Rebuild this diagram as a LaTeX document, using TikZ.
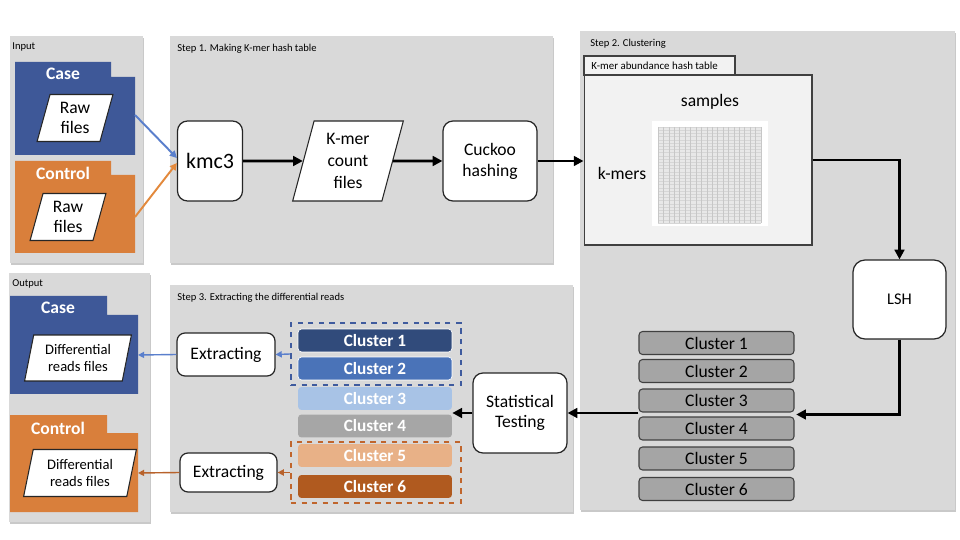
\documentclass[tikz,border=0pt]{standalone}
\usepackage{fontspec}
\setmainfont{Carlito}
\usetikzlibrary{shapes.geometric,arrows.meta,shadows,calc}
\definecolor{panelgray}{HTML}{D9D9D9}
\definecolor{caseblue}{HTML}{3E5898}
\definecolor{ctrlorange}{HTML}{D97F3B}
\definecolor{cone}{HTML}{314B7B}
\definecolor{ctwo}{HTML}{4A73B8}
\definecolor{cthree}{HTML}{A8C3E6}
\definecolor{cfour}{HTML}{A6A6A6}
\definecolor{cfive}{HTML}{E8B187}
\definecolor{csix}{HTML}{B05A1F}
\definecolor{clgray}{HTML}{A5A5A5}
\definecolor{tablefill}{HTML}{F2F2F2}
\definecolor{inblue}{HTML}{5A7FCC}
\definecolor{inorange}{HTML}{E3893C}
\definecolor{outorange}{HTML}{B8622B}
\definecolor{dashblue}{HTML}{3F5B9E}
\definecolor{dashorange}{HTML}{C0652C}
\begin{document}
\begin{tikzpicture}[x=0.02cm,y=-0.02cm,
  panel/.style={fill=panelgray, drop shadow={shadow xshift=0.6pt,shadow yshift=-0.9pt,opacity=0.35,fill=black!60}},
  ptitle/.style={anchor=west, font=\fontsize{6}{7}\selectfont, inner sep=0},
  proc/.style={draw=black!85, line width=0.7pt, fill=white, rounded corners=0.2cm, align=center, font=\fontsize{10}{12}\selectfont, inner sep=0},
  datafile/.style={trapezium, trapezium left angle=76, trapezium right angle=104, trapezium stretches=true, draw=black!85, line width=0.6pt, fill=white, align=center, inner sep=0, font=\fontsize{10}{11.5}\selectfont},
  arr/.style={line width=1.5pt, -{Triangle[length=5.5pt,width=5.5pt]}},
  carr/.style={line width=1.1pt, -{Triangle[length=4pt,width=4pt]}},
  oarr/.style={line width=0.8pt, -{Triangle[length=3.5pt,width=3.5pt]}},
  foldertitle/.style={font=\bfseries\fontsize{10}{12}\selectfont, text=white, inner sep=0},
  gclus/.style={draw=black!75, fill=clgray, rounded corners=2pt, minimum width=3.1cm, minimum height=0.46cm, font=\fontsize{10}{12}\selectfont, inner sep=0, line width=0.6pt},
  cclus/.style={draw=white, line width=0.4pt, rounded corners=2pt, minimum width=3.08cm, minimum height=0.46cm, font=\bfseries\fontsize{9.8}{12}\selectfont, text=white, inner sep=0},
  dashbox/.style={dashed, line width=1.1pt, minimum width=3.4cm, inner sep=0},
  gridv/.style={draw=black!22, line width=0.3pt},
  gridh/.style={draw=black!16, line width=0.2pt}
]
\useasboundingbox (0,0) rectangle (960,540);
\fill[white] (0,0) rectangle (960,540);

% panels
\path[panel] (10,36) rectangle (143,263);
\path[panel] (170,36) rectangle (553,263);
\path[panel] (580,31) rectangle (955,510);
\path[panel] (9,273) rectangle (150,522);
\path[panel] (170,285) rectangle (573,512);

\node[ptitle] (tin) at (12,47) {Input};
\node[ptitle] (tone) at (177,49) {Step 1. Making K-mer hash table};
\node[ptitle] (ttwo) at (590,44) {Step 2. Clustering};
\node[ptitle] (tout) at (12,284) {Output};
\node[ptitle] (tthree) at (177,298) {Step 3. Extracting the differential reads};

% input folders
\fill[caseblue] (15,62) -- (111,62) -- (111,77) -- (135,77) -- (135,155) -- (15,155) -- cycle;
\node[foldertitle] (caselab) at (63,74) {Case};
\node[datafile, minimum width=1.52cm, minimum height=0.94cm] (rawcase) at (75,118) {Raw\\files};
\coordinate (casein) at (135,115);

\fill[ctrlorange] (15,161) -- (111,161) -- (111,175) -- (135,175) -- (135,253) -- (15,253) -- cycle;
\node[foldertitle] (ctrllab) at (63,173) {Control};
\node[datafile, minimum width=1.52cm, minimum height=0.94cm] (rawctrl) at (68,217) {Raw\\files};
\coordinate (ctrlin) at (135,217);

% output folders
\fill[caseblue] (10,296) -- (107,296) -- (107,315) -- (138,315) -- (138,394) -- (10,394) -- cycle;
\node[foldertitle] (caseoutlab) at (58,308) {Case};
\node[datafile, minimum width=2.14cm, minimum height=0.92cm, font=\fontsize{8.3}{9.6}\selectfont] (diffcase) at (78,358) {Differential\\reads files};
\coordinate (caseout) at (138,355);

\fill[ctrlorange] (10,415) -- (107,415) -- (107,433) -- (138,433) -- (138,512) -- (10,512) -- cycle;
\node[foldertitle] (ctrloutlab) at (58,428) {Control};
\node[datafile, minimum width=2.26cm, minimum height=0.94cm, font=\fontsize{8.3}{9.6}\selectfont] (diffctrl) at (80,473) {Differential\\reads files};
\coordinate (ctrlout) at (138,473);

% step 1
\node[proc, minimum width=1.3cm, minimum height=1.6cm, font=\fontsize{12.5}{14}\selectfont] (kmc) at (210,161) {kmc3};
\node[datafile, minimum width=2.22cm, minimum height=1.6cm, font=\fontsize{10}{12.3}\selectfont] (kmer) at (348,161) {K-mer\\count\\files};
\node[proc, minimum width=1.88cm, minimum height=1.6cm, font=\fontsize{10}{11.9}\selectfont] (cuckoo) at (490,161) {Cuckoo\\hashing};

% step 2
\node[draw=black!75, line width=0.6pt, fill=tablefill, minimum width=3.02cm, minimum height=0.38cm, inner sep=0] (tabtab) at (659.5,65.5) {};
\node[anchor=west, font=\fontsize{6.2}{7}\selectfont, inner sep=0] (tabtxt) at (591,65.5) {K-mer abundance hash table};
\node[draw=black!75, line width=0.6pt, fill=tablefill, minimum width=4.56cm, minimum height=3.4cm, inner sep=0] (table) at (698,160) {};
\node[font=\fontsize{10}{12}\selectfont, inner sep=0] (samples) at (710,102) {samples};
\node[font=\fontsize{10}{12}\selectfont, inner sep=0] (kmers) at (622,173) {k-mers};
\fill[white] (652,121) rectangle (768,226);
\fill[black!9] (658,127) rectangle (761,223);
\foreach \j in {0,...,30} \draw[gridh] (658,{127+\j*3.2}) -- (761,{127+\j*3.2});
\foreach \i in {0,...,19} \draw[gridv] ({658+\i*5.421},127) -- ({658+\i*5.421},223);

\node[proc, rounded corners=0.24cm, minimum width=1.86cm, minimum height=1.58cm, font=\fontsize{9.3}{11}\selectfont] (lsh) at (899.5,299.5) {LSH};

\node[gclus] (g1) at (716.5,343) {Cluster 1};
\node[gclus] (g2) at (716.5,371) {Cluster 2};
\node[gclus] (g3) at (716.5,400.5) {Cluster 3};
\node[gclus] (g4) at (716.5,428.5) {Cluster 4};
\node[gclus] (g5) at (716.5,458.5) {Cluster 5};
\node[gclus] (g6) at (716.5,489) {Cluster 6};

% step 3
\node[proc, minimum width=1.88cm, minimum height=1.6cm, font=\fontsize{10}{11.3}\selectfont] (stat) at (520,413) {Statistical\\Testing};

\node[cclus, fill=cone] (c1) at (375,340.5) {Cluster 1};
\node[cclus, fill=ctwo] (c2) at (375,368.5) {Cluster 2};
\node[cclus, fill=cthree, draw=none] (c3) at (375,398.5) {Cluster 3};
\node[cclus, fill=cfour, draw=none] (c4) at (375,426) {Cluster 4};
\node[cclus, fill=cfive, draw=none] (c5) at (375,455.5) {Cluster 5};
\node[cclus, fill=csix, draw=none] (c6) at (375,486.5) {Cluster 6};

\node[dashbox, draw=dashblue, minimum height=1.24cm] (bluegrp) at (376,354) {};
\node[dashbox, draw=dashorange, minimum height=1.22cm] (orangegrp) at (376,472.5) {};

\node[proc, rounded corners=0.16cm, minimum width=1.96cm, minimum height=0.86cm] (ext1) at (226,354.5) {Extracting};
\node[proc, rounded corners=0.16cm, minimum width=1.94cm, minimum height=0.78cm] (ext2) at (228.5,472.5) {Extracting};

% connectors
\draw[carr, inblue] (casein) -- ([yshift=0.06cm]kmc.west);
\draw[carr, inorange] (ctrlin) -- ([yshift=-0.04cm]kmc.west);
\draw[arr] (kmc.east) -- (kmer.west);
\draw[arr] (kmer.east) -- (cuckoo.west);
\draw[arr] (cuckoo.east) -- (cuckoo.east -| table.west);
\draw[arr] (table.east) -| (lsh.north);
\draw[arr] (lsh.south) |- ([xshift=1pt]$(g3.south east)!0.5!(g4.north east)$);
\draw[arr] (stat.east -| g3.west) -- (stat.east);
\draw[arr] (stat.west) -- (stat.west -| c3.east);
\draw[oarr, inblue] (bluegrp.west) -- (ext1.east);
\draw[oarr, inblue] (ext1.west) -- (caseout);
\draw[oarr, outorange] (orangegrp.west) -- (ext2.east);
\draw[oarr, outorange] (ext2.west) -- (ctrlout);
\end{tikzpicture}
\end{document}
